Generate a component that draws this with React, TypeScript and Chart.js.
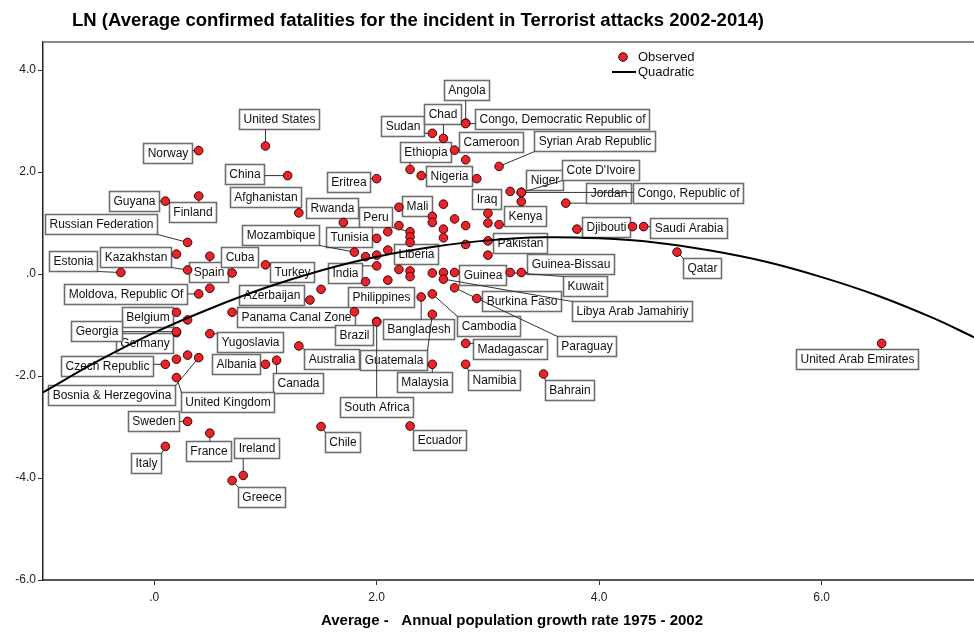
import { useEffect, useRef } from "react";
import { Chart, registerables } from "chart.js";

Chart.register(...registerables);

// ---------- data ----------
const countryNames: string[] = [
  "Norway", "United States", "China", "Finland", "Guyana", "Afghanistan", "Rwanda",
  "Russian Federation", "", "Spain", "Estonia", "Kazakhstan", "Cuba", "Turkey", "",
  "Moldova, Republic Of", "", "Azerbaijan", "Belgium", "", "Panama Canal Zone", "Germany",
  "Georgia", "Yugoslavia", "Australia", "", "", "Bosnia & Herzegovina", "Czech Republic",
  "Albania", "Canada", "United Kingdom", "Sweden", "France", "Italy", "Ireland", "Greece",
  "Chile", "Ecuador", "Angola", "Congo, Democratic Republic of", "Sudan", "Chad", "Cameroon",
  "", "Syrian Arab Republic", "Ethiopia", "Nigeria", "", "Eritrea", "", "Niger",
  "Cote D'Ivoire", "Congo, Republic of", "", "Jordan", "Mali", "", "Iraq", "", "Kenya",
  "", "", "", "", "", "", "", "", "Peru", "", "Liberia", "Tunisia", "Mozambique", "", "",
  "", "India", "", "", "", "", "", "", "Philippines", "Bangladesh", "Cambodia", "Brazil",
  "South Africa", "Guatemala", "Malaysia", "Madagascar", "Namibia", "Bahrain", "", "Pakistan",
  "", "", "Libya Arab Jamahiriy", "Guinea", "Paraguay", "Burkina Faso", "Djibouti", "",
  "Saudi Arabia", "Qatar", "United Arab Emirates", "Kuwait", "Guinea-Bissau",
];

const growthRate: number[] = [
  0.4, 1.0, 1.2, 0.4, 0.1, 1.3, 1.7,
  0.3, 0.2, 0.5, -0.3, 0.3, 0.7, 1.0, 0.5,
  0.4, 1.5, 1.4, 0.2, 0.3, 0.7, 0.2,
  0.2, 0.5, 1.3, 0.2, 0.3, 0.4, 0.1,
  1.0, 1.1, 0.2, 0.3, 0.5, 0.1, 0.8, 0.7,
  1.5, 2.3, 2.8, 2.8, 2.5, 2.6, 2.7,
  2.8, 3.1, 2.3, 2.4, 2.9, 2.0, 3.2, 3.3,
  3.3, 3.3, 3.3, 3.7, 2.2, 2.6, 3.0, 3.0, 3.1,
  2.5, 2.5, 2.7, 2.8, 2.6, 2.6, 2.2, 2.1, 2.3, 2.3, 2.3, 2.0, 1.8, 1.9, 2.0,
  2.1, 2.0, 2.2, 2.3, 2.3, 2.5, 1.9, 2.1, 1.8, 2.4, 2.5, 2.0,
  2.0, 2.5, 2.5, 2.8, 2.8, 3.5, 2.8, 3.0,
  3.0, 2.6, 2.6, 2.7, 2.7, 2.9, 3.8, 4.3,
  4.4, 4.7, 6.54, 3.2, 3.3,
];

const lnFatalities: number[] = [
  2.42, 2.51, 1.93, 1.53, 1.43, 1.2, 1.01,
  0.62, 0.39, 0.35, 0.03, 0.08, 0.02, 0.18, -0.28,
  -0.39, -0.3, -0.51, -0.75, -0.9, -0.75, -1.15,
  -1.13, -1.17, -1.41, -1.67, -1.59, -1.64, -1.77,
  -1.77, -1.69, -2.03, -2.89, -3.12, -3.38, -3.95, -4.05,
  -2.99, -2.98, 2.96, 2.95, 2.76, 2.66, 2.43,
  2.24, 2.11, 2.05, 1.93, 1.87, 1.87, 1.62, 1.6,
  1.6, 1.6, 1.42, 1.39, 1.31, 1.37, 1.19, 1.0, 0.97,
  1.13, 1.01, 1.08, 0.95, 0.88, 0.71, 0.95, 0.83, 0.83, 0.73, 0.62, 0.7, 0.43, 0.34, 0.37,
  0.47, 0.16, 0.09, 0.06, -0.05, 0.02, -0.15, -0.12, -0.74, -0.45, -0.39, -0.93,
  -0.94, -0.79, -1.77, -1.36, -1.77, -1.96, 0.58, 0.65,
  0.37, 0.03, -0.1, 0.03, -0.27, -0.48, 0.88, 0.93,
  0.93, 0.43, -1.36, 0.03, 0.03,
];

// quadratic fit line
const curveX: number[] = [-1.0, -0.5, 0, 0.5, 1.0, 1.5, 2.0, 2.5, 3.0, 3.5, 4.0, 4.5, 5.0, 5.5, 6.0, 6.5, 7.0, 7.37];
const curveY: number[] = [-2.32, -1.7, -1.15, -0.68, -0.27, 0.07, 0.34, 0.53, 0.66, 0.72, 0.7, 0.62, 0.46, 0.24, -0.06, -0.42, -0.86, -1.24];

const xTickValues: number[] = [0, 2, 4, 6];
const yTickValues: number[] = [-6, -4, -2, 0, 2, 4];

const chartTitle = "LN (Average confirmed fatalities for the incident in Terrorist attacks 2002-2014)";
const xAxisTitle = "Average -   Annual population growth rate 1975 - 2002";
const legendObserved = "Observed";
const legendQuadratic = "Quadratic";

// ---------- layout (label box centre offsets in px, relative to the point) ----------
const labelOffsets: Record<string, [number, number]> = {
  "Norway": [-31, 2],
  "United States": [14, -27],
  "China": [-43, -2],
  "Finland": [-6, 16],
  "Guyana": [-31, 0],
  "Afghanistan": [-33, -16],
  "Rwanda": [-11, -15],
  "Eritrea": [-28, 3],
  "Russian Federation": [-87, -18],
  "Estonia": [-48, -11],
  "Kazakhstan": [-52, -13],
  "Spain": [-1, 16],
  "Cuba": [7, -16],
  "Turkey": [27, 7],
  "Moldova, Republic Of": [-73, 0],
  "Azerbaijan": [-38, -5],
  "Belgium": [-29, 5],
  "Georgia": [-80, -1],
  "Germany": [-32, 10],
  "Panama Canal Zone": [64, 5],
  "Yugoslavia": [40, 8],
  "Australia": [33, 13],
  "Czech Republic": [-58, 2],
  "Albania": [-29, 0],
  "Canada": [21, 23],
  "Bosnia & Herzegovina": [-87, 37],
  "United Kingdom": [51, 24],
  "Sweden": [-34, 0],
  "France": [-1, 18],
  "Italy": [-19, 17],
  "Ireland": [13, -27],
  "Greece": [29, 16],
  "Chile": [21, 15],
  "Ecuador": [29, 14],
  "South Africa": [0, 85],
  "Brazil": [-23, 14],
  "Guatemala": [-39, 46],
  "Bangladesh": [-3, 32],
  "Cambodia": [56, 32],
  "Malaysia": [-8, 18],
  "Madagascar": [44, 6],
  "Namibia": [28, 16],
  "Bahrain": [26, 16],
  "Paraguay": [132, 58],
  "Guinea": [28, 3],
  "Guinea-Bissau": [49, -8],
  "Kuwait": [75, 14],
  "Libya Arab Jamahiriy": [189, 32],
  "Burkina Faso": [45, 2],
  "Pakistan": [32, 2],
  "Kenya": [26, -9],
  "Iraq": [-1, -14],
  "Mali": [18, -1],
  "Peru": [-35, -15],
  "Tunisia": [-28, -1],
  "Mozambique": [-74, -17],
  "India": [-32, 7],
  "Liberia": [6, 12],
  "Philippines": [27, -15],
  "Djibouti": [29, -2],
  "Saudi Arabia": [45, 1],
  "Qatar": [25, 16],
  "United Arab Emirates": [-25, 16],
  "Jordan": [43, -10],
  "Congo, Republic of": [167, 1],
  "Cote D'Ivoire": [79, -22],
  "Niger": [23, -12],
  "Syrian Arab Republic": [95, -25],
  "Cameroon": [36, -8],
  "Congo, Democratic Republic of": [96, -5],
  "Angola": [1, -33],
  "Chad": [-1, -24],
  "Sudan": [-30, -7],
  "Ethiopia": [15, -17],
  "Nigeria": [28, 0],
};

const LABEL_FONT = '12px "Liberation Sans", Arial, sans-serif';
const TICK_FONT_FAMILY = '"Liberation Sans Narrow", "Arial Narrow", "Liberation Sans", Arial, sans-serif';
const POINT_FILL = "#e8232a";
const POINT_BORDER = "#3a0606";
const POINT_RADIUS = 4.3;

const fmtTick = (v: number) => (v === 0 ? ".0" : v.toFixed(1));

const annotatePlugin = {
  id: "annotate",
  beforeDatasetsDraw(chart: any) {
    const ctx: CanvasRenderingContext2D = chart.ctx;
    const xs = chart.scales.x;
    const ys = chart.scales.y;
    ctx.save();
    ctx.font = LABEL_FONT;
    const boxes: { name: string; px: number; py: number; l: number; t: number; w: number; h: number }[] = [];
    countryNames.forEach((name, i) => {
      if (!name) return;
      const off = labelOffsets[name];
      if (!off) return;
      const px = xs.getPixelForValue(growthRate[i]);
      const py = ys.getPixelForValue(lnFatalities[i]);
      const w = Math.round(ctx.measureText(name).width + 8);
      const h = 20;
      const cx = px + off[0];
      const cy = py + off[1];
      boxes.push({ name, px, py, l: Math.round(cx - w / 2) + 0.5, t: Math.round(cy - h / 2) + 0.5, w, h });
    });
    boxes.forEach((b) => {
      ctx.fillStyle = "#ffffff";
      ctx.fillRect(b.l, b.t, b.w, b.h);
      ctx.strokeStyle = "#6e6e6e";
      ctx.lineWidth = 1.6;
      ctx.strokeRect(b.l, b.t, b.w, b.h);
      ctx.fillStyle = "#111111";
      ctx.textAlign = "center";
      ctx.textBaseline = "middle";
      ctx.fillText(b.name, b.l + b.w / 2, b.t + b.h / 2 + 0.5);
    });
    ctx.strokeStyle = "#333333";
    ctx.lineWidth = 1;
    boxes.forEach((b) => {
      const nx = Math.min(Math.max(b.px, b.l), b.l + b.w);
      const ny = Math.min(Math.max(b.py, b.t), b.t + b.h);
      const d = Math.hypot(nx - b.px, ny - b.py);
      if (d < 5) return;
      ctx.beginPath();
      ctx.moveTo(b.px, b.py);
      ctx.lineTo(nx, ny);
      ctx.stroke();
    });
    ctx.restore();
  },
  afterDraw(chart: any) {
    const ctx: CanvasRenderingContext2D = chart.ctx;
    const area = chart.chartArea;
    ctx.save();
    // top frame line
    ctx.strokeStyle = "#8a8a8a";
    ctx.lineWidth = 2;
    ctx.beginPath();
    ctx.moveTo(area.left, area.top);
    ctx.lineTo(chart.width, area.top);
    ctx.stroke();
    // title
    ctx.fillStyle = "#000";
    ctx.font = 'bold 18.5px "Liberation Sans", Arial, sans-serif';
    ctx.textAlign = "left";
    ctx.textBaseline = "middle";
    ctx.fillText(chartTitle, 72, 21);
    // x axis title
    ctx.font = 'bold 15px "Liberation Sans", Arial, sans-serif';
    ctx.textAlign = "center";
    ctx.fillText(xAxisTitle, 512, 621);
    // legend
    ctx.font = '13px "Liberation Sans", Arial, sans-serif';
    ctx.textAlign = "left";
    ctx.fillStyle = POINT_FILL;
    ctx.strokeStyle = POINT_BORDER;
    ctx.lineWidth = 1;
    ctx.beginPath();
    ctx.arc(623, 57, POINT_RADIUS, 0, Math.PI * 2);
    ctx.fill();
    ctx.stroke();
    ctx.fillStyle = "#111";
    ctx.fillText(legendObserved, 638, 57);
    ctx.strokeStyle = "#000";
    ctx.lineWidth = 2;
    ctx.beginPath();
    ctx.moveTo(612, 72);
    ctx.lineTo(636, 72);
    ctx.stroke();
    ctx.fillText(legendQuadratic, 638, 72);
    ctx.restore();
  },
};

export default function App() {
  const ref = useRef<HTMLCanvasElement>(null);
  useEffect(() => {
    document.body.style.margin = "0";
    const canvas = ref.current;
    if (!canvas) return;
    const chart = new Chart(canvas, {
      type: "scatter",
      data: {
        datasets: [
          {
            type: "line",
            label: legendQuadratic,
            data: curveX.map((x, i) => ({ x, y: curveY[i] })),
            borderColor: "#000",
            borderWidth: 2,
            pointRadius: 0,
            tension: 0.4,
            fill: false,
            order: 0,
          } as any,
          {
            type: "scatter",
            label: legendObserved,
            data: growthRate.map((x, i) => ({ x, y: lnFatalities[i] })),
            backgroundColor: POINT_FILL,
            borderColor: POINT_BORDER,
            borderWidth: 1,
            pointRadius: POINT_RADIUS,
            order: 1,
          },
        ],
      },
      options: {
        animation: false,
        responsive: false,
        maintainAspectRatio: false,
        devicePixelRatio: 1,
        layout: { autoPadding: false, padding: { top: 42, right: 0, left: 0, bottom: 0 } },
        plugins: {
          legend: { display: false },
          title: { display: false },
          tooltip: { enabled: false },
        },
        scales: {
          x: {
            type: "linear",
            min: -1.0,
            max: 7.37,
            afterBuildTicks: (s: any) => {
              s.ticks = xTickValues.map((v) => ({ value: v }));
            },
            afterFit: (s: any) => {
              s.height = 52;
            },
            ticks: {
              autoSkip: false,
              callback: (v: any) => fmtTick(Number(v)),
              font: { size: 12, family: TICK_FONT_FAMILY },
              color: "#222",
              padding: 5,
              maxRotation: 0,
            },
            grid: { drawOnChartArea: false, drawTicks: true, tickLength: 5, color: "#333" },
            border: { display: true, color: "#555", width: 2 },
          },
          y: {
            type: "linear",
            min: -6,
            max: 4.55,
            afterBuildTicks: (s: any) => {
              s.ticks = yTickValues.map((v) => ({ value: v }));
            },
            afterFit: (s: any) => {
              s.width = 43;
            },
            ticks: {
              autoSkip: false,
              callback: (v: any) => fmtTick(Number(v)),
              font: { size: 12, family: TICK_FONT_FAMILY },
              color: "#222",
              padding: 2,
            },
            grid: { drawOnChartArea: false, drawTicks: true, tickLength: 5, color: "#333" },
            border: { display: true, color: "#222", width: 1.5 },
          },
        },
      },
      plugins: [annotatePlugin],
    });
    return () => chart.destroy();
  }, []);
  return (
    <div style={{ width: 974, height: 632, position: "relative", background: "#fff" }}>
      <canvas ref={ref} width={974} height={632} style={{ display: "block", width: 974, height: 632 }} />
    </div>
  );
}
